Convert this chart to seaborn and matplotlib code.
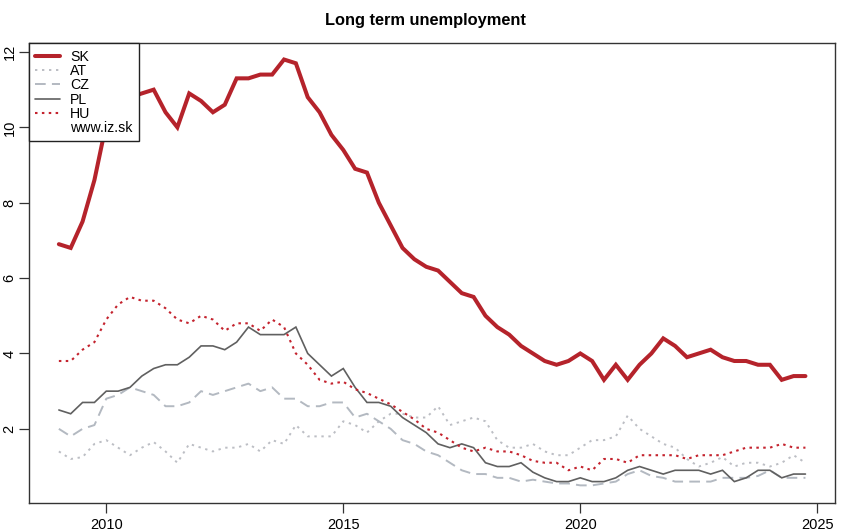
import numpy as np
import pandas as pd
import matplotlib
matplotlib.use("Agg")
import matplotlib.pyplot as plt
from matplotlib.lines import Line2D
import seaborn as sns

# ---- data (quarterly, 2009Q1 .. 2024Q4) ----
periods = pd.period_range("2009Q1", "2024Q4", freq="Q")
time = [p.year + (p.quarter - 1) / 4 for p in periods]

sk = [6.9, 6.8, 7.5, 8.6, 10.1, 10.8, 10.8, 10.9, 11.0, 10.4, 10.0, 10.9, 10.7, 10.4, 10.6, 11.3,
      11.3, 11.4, 11.4, 11.8, 11.7, 10.8, 10.4, 9.8, 9.4, 8.9, 8.8, 8.0, 7.4, 6.8, 6.5, 6.3,
      6.2, 5.9, 5.6, 5.5, 5.0, 4.7, 4.5, 4.2, 4.0, 3.8, 3.7, 3.8, 4.0, 3.8, 3.3, 3.7,
      3.3, 3.7, 4.0, 4.4, 4.2, 3.9, 4.0, 4.1, 3.9, 3.8, 3.8, 3.7, 3.7, 3.3, 3.4, 3.4]
at = [1.4, 1.2, 1.25, 1.6, 1.7, 1.5, 1.3, 1.5, 1.65, 1.4, 1.1, 1.6, 1.5, 1.4, 1.5, 1.5,
      1.6, 1.4, 1.7, 1.6, 2.1, 1.8, 1.8, 1.8, 2.2, 2.1, 1.9, 2.2, 2.4, 2.4, 2.3, 2.3,
      2.6, 2.1, 2.2, 2.3, 2.2, 1.7, 1.5, 1.5, 1.6, 1.4, 1.3, 1.3, 1.5, 1.7, 1.7, 1.8,
      2.35, 2.0, 1.8, 1.6, 1.5, 1.2, 1.0, 1.1, 1.25, 1.0, 1.1, 1.1, 1.0, 1.1, 1.3, 1.1]
cz = [2.0, 1.8, 2.0, 2.1, 2.8, 2.9, 3.1, 3.0, 2.9, 2.6, 2.6, 2.7, 3.0, 2.9, 3.0, 3.1,
      3.2, 3.0, 3.1, 2.8, 2.8, 2.6, 2.6, 2.7, 2.7, 2.3, 2.4, 2.2, 2.0, 1.7, 1.6, 1.4,
      1.3, 1.1, 0.9, 0.8, 0.8, 0.7, 0.7, 0.6, 0.65, 0.6, 0.55, 0.55, 0.5, 0.5, 0.55, 0.6,
      0.8, 0.9, 0.75, 0.7, 0.6, 0.6, 0.6, 0.6, 0.7, 0.7, 0.7, 0.75, 0.9, 0.7, 0.7, 0.7]
pl = [2.5, 2.4, 2.7, 2.7, 3.0, 3.0, 3.1, 3.4, 3.6, 3.7, 3.7, 3.9, 4.2, 4.2, 4.1, 4.3,
      4.7, 4.5, 4.5, 4.5, 4.7, 4.0, 3.7, 3.4, 3.6, 3.1, 2.7, 2.7, 2.6, 2.3, 2.1, 1.9,
      1.6, 1.5, 1.6, 1.5, 1.1, 1.0, 1.0, 1.1, 0.85, 0.7, 0.6, 0.6, 0.7, 0.6, 0.6, 0.7,
      0.9, 1.0, 0.9, 0.8, 0.9, 0.9, 0.9, 0.8, 0.9, 0.6, 0.7, 0.9, 0.9, 0.7, 0.8, 0.8]
hu = [3.8, 3.8, 4.1, 4.3, 4.9, 5.3, 5.5, 5.4, 5.4, 5.2, 4.9, 4.8, 5.0, 4.9, 4.6, 4.8,
      4.8, 4.6, 4.9, 4.7, 4.0, 3.7, 3.3, 3.2, 3.25, 3.05, 2.95, 2.8, 2.65, 2.45, 2.25, 2.0,
      1.9, 1.7, 1.5, 1.4, 1.5, 1.4, 1.4, 1.3, 1.15, 1.1, 1.1, 0.9, 1.0, 0.9, 1.2, 1.2,
      1.1, 1.3, 1.3, 1.3, 1.3, 1.2, 1.3, 1.3, 1.3, 1.4, 1.5, 1.5, 1.5, 1.6, 1.5, 1.5]

x_ticks = [2010, 2015, 2020, 2025]
y_ticks = [2, 4, 6, 8, 10, 12]
title = "Long term unemployment"

# ---- style ----
sns.set_style("white")
plt.rcParams["font.family"] = ["Liberation Sans", "DejaVu Sans"]
plt.rcParams["text.color"] = "black"
plt.rcParams["xtick.bottom"] = True
plt.rcParams["ytick.left"] = True

fig = plt.figure(figsize=(8.5, 5.32), dpi=100)
ax = fig.add_axes([29 / 850, 1 - 502.7 / 532, (835.3 - 29) / 850, (502.7 - 43.3) / 532])

styles = {
    "SK": dict(color="#B5232B", lw=2.9, ls="-"),
    "AT": dict(color="#BCBEC4", lw=1.4, ls=(0, (1.2, 2.4))),
    "CZ": dict(color="#B3B9C1", lw=1.4, ls=(0, (5.5, 3.2))),
    "PL": dict(color="#606060", lw=1.2, ls="-"),
    "HU": dict(color="#C4232E", lw=1.5, ls=(0, (1.2, 2.1))),
}
series = {"SK": sk, "AT": at, "CZ": cz, "PL": pl, "HU": hu}

order = ["AT", "CZ", "PL", "HU", "SK"]
for name in order:
    df = pd.DataFrame({"time": time, "value": series[name]})
    st = styles[name]
    sns.lineplot(data=df, x="time", y="value", ax=ax, color=st["color"],
                 linewidth=st["lw"], linestyle=st["ls"], legend=False,
                 solid_joinstyle="miter", dash_capstyle="butt", zorder=3 if name == "SK" else 2)

ax.set_xlim(2008.37, 2025.38)
ax.set_ylim(0.04, 12.23)
ax.set_xticks(x_ticks)
ax.set_xticklabels([str(t) for t in x_ticks])
ax.set_yticks(y_ticks)
ax.set_yticklabels([str(t) for t in y_ticks], rotation=90, va="center")
ax.set_xlabel("")
ax.set_ylabel("")
for sp in ax.spines.values():
    sp.set_color("#333333")
    sp.set_linewidth(1.0)
    sp.set_visible(True)
ax.tick_params(axis="both", which="major", bottom=True, left=True, direction="out",
               length=7, width=0.9, colors="#333333", labelcolor="black", labelsize=10.5)
ax.tick_params(axis="x", pad=4)
ax.tick_params(axis="y", pad=2)
ax.grid(False)
ax.set_facecolor("white")

fig.text(0.5, 1 - 20 / 532, title, ha="center", va="center", fontsize=11.8,
         fontweight="bold", color="black")

handles = [Line2D([], [], color=styles[n]["color"], lw=styles[n]["lw"], ls=styles[n]["ls"])
           for n in ["SK", "AT", "CZ", "PL", "HU"]]
handles.append(Line2D([], [], color="none", lw=0))
labels = ["SK", "AT", "CZ", "PL", "HU", "www.iz.sk"]
leg = ax.legend(handles, labels, loc="upper left", bbox_to_anchor=(0, 1), borderaxespad=0,
                frameon=True, fancybox=False, framealpha=1, edgecolor="#222222",
                fontsize=10.2, handlelength=1.75, handletextpad=0.7, labelspacing=0.02,
                borderpad=0.45)
leg.get_frame().set_linewidth(1.0)
for t in leg.get_texts():
    t.set_color("black")
leg.set_zorder(10)

fig.savefig("out.png", dpi=100, facecolor="white")
